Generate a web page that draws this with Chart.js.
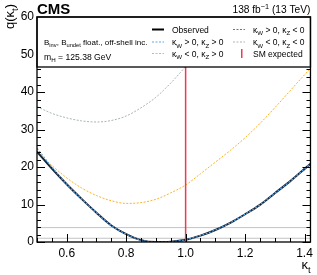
<!DOCTYPE html>
<html>
<head>
<meta charset="utf-8">
<script src="https://cdn.jsdelivr.net/npm/chart.js@4/dist/chart.umd.min.js"></script>
<style>
  body { margin: 0; background: #fff; }
  canvas { display: block; }
</style>
</head>
<body>
<canvas id="c" width="317" height="275"></canvas>
<script>
/* ==============
   DATA
   ============== */
const kt = [0.5, 0.55, 0.6, 0.65, 0.7, 0.75, 0.8, 0.85, 0.9, 0.95, 1.0, 1.05, 1.1, 1.15, 1.2, 1.25, 1.3, 1.35, 1.4, 1.42];
const observed = [24.1, 19.6, 15.4, 11.5, 7.8, 4.4, 2.1, 0.5, 0.0, 0.1, 0.6, 1.7, 3.2, 5.1, 7.4, 9.9, 13.0, 16.1, 19.5, 20.9];
const wPosZPos = [25.0, 20.0, 15.4, 11.5, 7.8, 4.4, 2.1, 0.5, 0.0, 0.1, 0.6, 1.7, 3.2, 5.1, 7.4, 9.9, 13.0, 16.1, 19.5, 20.9];
const wNegZPos = [24.0, 20.4, 17.1, 14.4, 12.4, 11.0, 10.3, 10.5, 11.4, 13.1, 15.2, 18.2, 21.3, 24.4, 27.8, 31.6, 35.8, 40.2, 44.6, 46.3];
const wNegZNeg = [36.1, 34.3, 33.1, 32.3, 32.0, 32.4, 33.6, 35.8, 38.6, 42.4, 46.8, 51.5, null, null, null, null, null, null, null, null];
const clLevels = [1, 3.84];
const smKt = 1.0;
const yTicks = [0, 10, 20, 30, 40, 50, 60];
const xTicks = [0.6, 0.8, 1.0, 1.2, 1.4];

const FONT = '"Liberation Sans", Arial, Helvetica, sans-serif';
const BLUE = '#5aa8ec';
const ORANGE = '#ffb224';
const GREY = '#a9b4b4';
const RED = '#ee3b52';

const pts = (ys) => kt.map((x, i) => ({ x: x, y: ys[i] }));

// draw text with sub/superscripts, returns end x
function richWidth(ctx, parts, size) {
    let w = 0;
    parts.forEach(p => {
        ctx.font = (p.bold ? 'bold ' : '') + ((p.sub || p.sup) ? size * 0.72 : size) + 'px ' + FONT;
        w += ctx.measureText(p.t).width;
    });
    return w;
}
function drawRich(ctx, parts, x, y, size, align) {
    if (align === 'right') x -= richWidth(ctx, parts, size);
    ctx.textAlign = 'left';
    ctx.textBaseline = 'alphabetic';
    parts.forEach(p => {
        const s = (p.sub || p.sup) ? size * 0.72 : size;
        ctx.font = (p.bold ? 'bold ' : '') + s + 'px ' + FONT;
        const dy = p.sub ? size * 0.28 : (p.sup ? -size * 0.38 : 0);
        ctx.fillText(p.t, x, y + dy);
        x += ctx.measureText(p.t).width;
    });
    return x;
}

const frame = {
    id: 'frame',
    afterDatasetsDraw(chart) {
        const { ctx, chartArea: a, scales: { x, y } } = chart;
        ctx.save();

        // axis ticks (inward, all sides)
        ctx.strokeStyle = '#000';
        ctx.lineWidth = 1;
        ctx.beginPath();
        for (let v = 0; v <= 60; v += 2) {
            const py = Math.round(y.getPixelForValue(v)) + 0.5;
            const len = v % 10 === 0 ? 8 : 4;
            ctx.moveTo(a.left, py); ctx.lineTo(a.left + len, py);
            ctx.moveTo(a.right, py); ctx.lineTo(a.right - len, py);
        }
        for (let i = 10; i <= 28; i++) {
            const v = i * 0.05;
            const px = Math.round(x.getPixelForValue(v)) + 0.5;
            const len = i % 4 === 0 ? 8 : 4;
            ctx.moveTo(px, a.bottom); ctx.lineTo(px, a.bottom - len);
        }
        ctx.stroke();

        // legend box
        const bTop = a.top, bBot = a.top + 50;
        ctx.fillStyle = '#fff';
        ctx.fillRect(a.left, bTop, a.right - a.left, bBot - bTop);
        ctx.lineWidth = 1.3;
        ctx.strokeRect(a.left, bTop, a.right - a.left, bBot - bTop);

        // frame
        ctx.strokeRect(a.left, a.top, a.right - a.left, a.bottom - a.top);

        ctx.fillStyle = '#000';
        drawRich(ctx, [{ t: 'B' }, { t: 'inv', sub: true }, { t: ', B' }, { t: 'undet', sub: true }, { t: ' float., off-shell inc.' }], a.left + 7, 45, 8);
        drawRich(ctx, [{ t: 'm' }, { t: 'H', sub: true }, { t: ' = 125.38 GeV' }], a.left + 7, 60, 8.6);

        const rows = [29.5, 42, 53.5];
        const c1 = 152, c2 = 233;
        const item = (cx, row, color, dash, width, parts) => {
            ctx.beginPath();
            ctx.setLineDash(dash);
            ctx.strokeStyle = color;
            ctx.lineWidth = width;
            ctx.moveTo(cx, row); ctx.lineTo(cx + 12, row);
            ctx.stroke();
            ctx.setLineDash([]);
            ctx.fillStyle = '#000';
            drawRich(ctx, parts, cx + 20, row + 3.2, 8.5);
        };
        item(c1, rows[0], '#000', [], 2, [{ t: 'Observed' }]);
        item(c1, rows[1], BLUE, [2, 1.5], 1, [{ t: 'κ' }, { t: 'W', sub: true }, { t: ' > 0, κ' }, { t: 'Z', sub: true }, { t: ' > 0' }]);
        item(c1, rows[2], ORANGE, [2, 1.5], 1, [{ t: 'κ' }, { t: 'W', sub: true }, { t: ' < 0, κ' }, { t: 'Z', sub: true }, { t: ' > 0' }]);
        item(c2, rows[0], RED, [2, 1.5], 1, [{ t: 'κ' }, { t: 'W', sub: true }, { t: ' > 0, κ' }, { t: 'Z', sub: true }, { t: ' < 0' }]);
        item(c2, rows[1], GREY, [2, 1.5], 1, [{ t: 'κ' }, { t: 'W', sub: true }, { t: ' < 0, κ' }, { t: 'Z', sub: true }, { t: ' < 0' }]);
        ctx.fillStyle = RED;
        ctx.fillRect(c2 + 8, rows[2] - 4.5, 1.5, 9);
        ctx.fillStyle = '#000';
        drawRich(ctx, [{ t: 'SM expected' }], c2 + 20, rows[2] + 3.2, 8.5);

        // header texts
        drawRich(ctx, [{ t: 'CMS', bold: true }], a.left, 14, 15);
        drawRich(ctx, [{ t: '138 fb' }, { t: '−1', sup: true }, { t: ' (13 TeV)' }], a.right, 13, 10.2, 'right');

        // axis titles
        drawRich(ctx, [{ t: 'κ' }, { t: 't', sub: true }], a.right, 269, 13, 'right');
        ctx.save();
        ctx.translate(14, 4);
        ctx.rotate(-Math.PI / 2);
        drawRich(ctx, [{ t: 'q(κ' }, { t: 't', sub: true }, { t: ')' }], 0, 0, 13, 'right');
        ctx.restore();

        ctx.restore();
    }
};

const curve = (data, color, dash, width, order) => ({
    data: data, borderColor: color, borderDash: dash, borderWidth: width,
    pointRadius: 0, fill: false, cubicInterpolationMode: 'monotone', order: order, spanGaps: false
});

new Chart(document.getElementById('c'), {
    type: 'line',
    data: {
        datasets: [
            { data: [{ x: smKt, y: 0 }, { x: smKt, y: 60 }], borderColor: RED, borderWidth: 1.5, pointRadius: 0, order: 0 },
            curve(pts(wPosZPos), BLUE, [2, 1.5], 1.1, 1),
            curve(pts(observed), '#15253a', [], 2, 2),
            curve(pts(wNegZPos), ORANGE, [2, 1.5], 1, 3),
            curve(pts(wNegZNeg), GREY, [2, 1.5], 1, 4),
            ...clLevels.map(v => ({ data: [{ x: 0.5, y: v }, { x: 1.42, y: v }], borderColor: '#c4c4c4', borderWidth: 1, pointRadius: 0, order: 5 }))
        ]
    },
    options: {
        responsive: false,
        animation: false,
        layout: { padding: { top: 17, right: 6, left: 0, bottom: 0 } },
        plugins: { legend: { display: false }, tooltip: { enabled: false } },
        scales: {
            x: {
                type: 'linear', min: 0.5, max: 1.42,
                grid: { display: false, drawTicks: false },
                border: { display: false },
                afterBuildTicks: s => { s.ticks = xTicks.map(v => ({ value: v })); },
                afterFit: s => { s.height = 33; },
                ticks: { padding: 4, color: '#000', maxRotation: 0, font: { family: FONT, size: 12 }, callback: v => v.toFixed(1) }
            },
            y: {
                min: 0, max: 60,
                grid: { display: false, drawTicks: false },
                border: { display: false },
                afterBuildTicks: s => { s.ticks = yTicks.map(v => ({ value: v })); },
                afterFit: s => { s.width = 37; },
                ticks: { padding: 3, color: '#000', font: { family: FONT, size: 12 } }
            }
        }
    },
    plugins: [frame]
});
</script>
</body>
</html>
